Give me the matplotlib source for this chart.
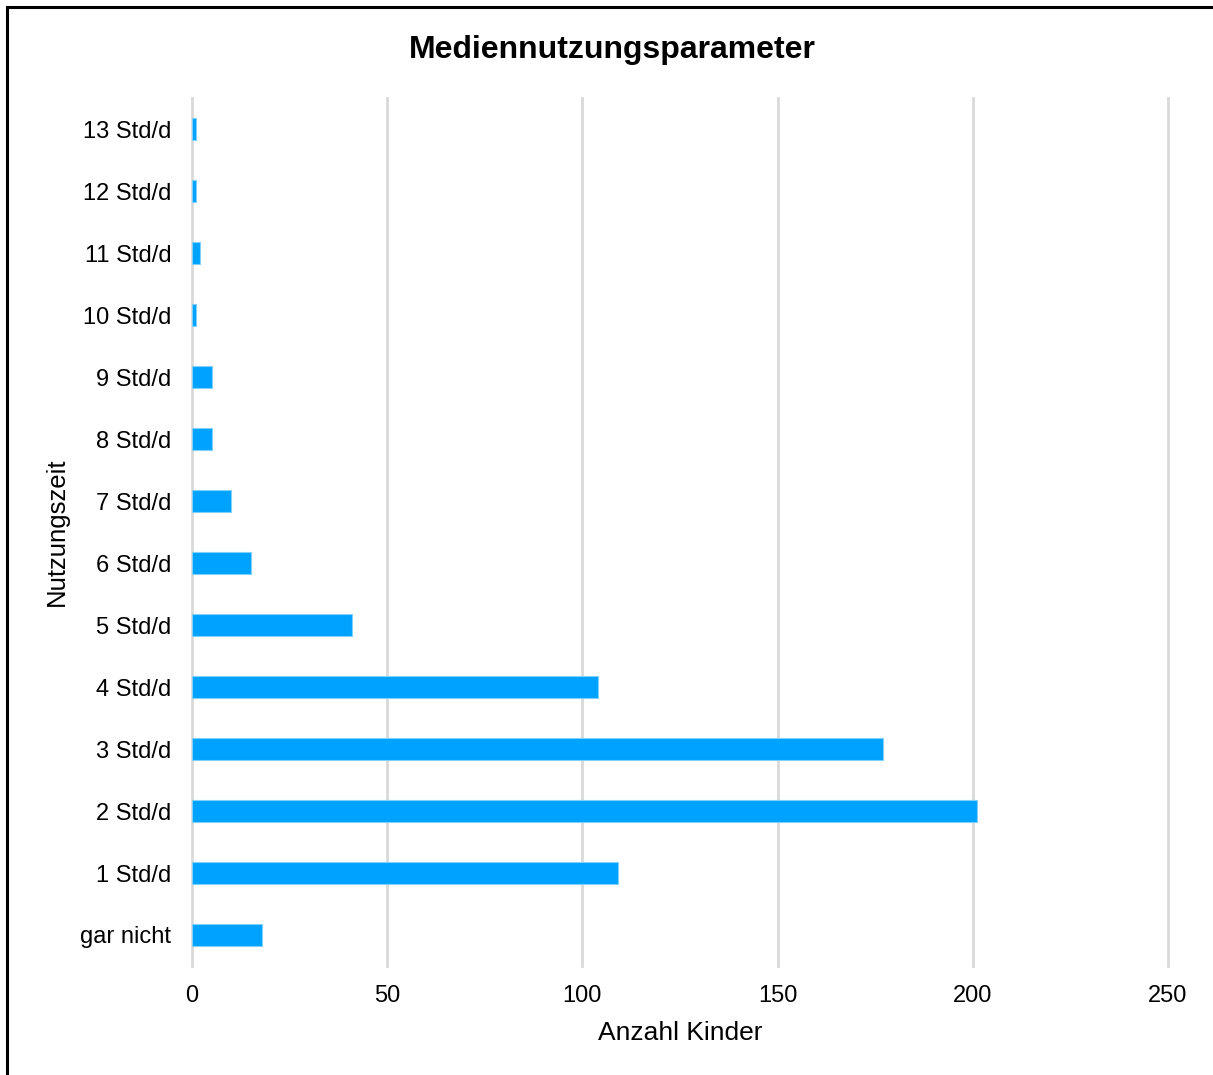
import matplotlib.pyplot as plt
from matplotlib.patches import Rectangle

plt.rcParams['font.family'] = ['Liberation Sans', 'DejaVu Sans']

# Nutzungszeit pro Tag und Anzahl der Kinder
kategorien = ['gar nicht', '1 Std/d', '2 Std/d', '3 Std/d', '4 Std/d', '5 Std/d',
              '6 Std/d', '7 Std/d', '8 Std/d', '9 Std/d', '10 Std/d', '11 Std/d',
              '12 Std/d', '13 Std/d']
anzahl = [18, 109, 201, 177, 104, 41, 15, 10, 5, 5, 1, 2, 1, 1]
x_ticks = [0, 50, 100, 150, 200, 250]

fig = plt.figure(figsize=(12.13, 10.75), dpi=100)
ax = fig.add_axes([192/1213, 1 - 966/1075, (1168-192)/1213, (966-98)/1075])

pos = range(len(kategorien))
ax.barh(pos, anzahl, height=0.36, color='#00A2FF', edgecolor='#7FD0FF',
        linewidth=0.8, zorder=3)

ax.set_xlim(0, 250)
ax.set_ylim(-0.5, len(kategorien) - 0.5)
ax.set_xticks(x_ticks)
ax.set_yticks(list(pos))
ax.set_yticklabels(kategorien)
ax.tick_params(axis='both', length=0, labelsize=17, colors='black')
ax.tick_params(axis='x', pad=14)
ax.tick_params(axis='y', pad=15)
ax.grid(axis='x', color='#D9D9D9', linewidth=2, zorder=0)
for gl in ax.get_xgridlines():
    gl.set_clip_on(False)
for s in ax.spines.values():
    s.set_visible(False)

ax.set_xlabel('Anzahl Kinder', fontsize=19, labelpad=10)
ax.set_ylabel('Nutzungszeit', fontsize=18.5, labelpad=8)
fig.text(612/1213, 1 - 50/1075, 'Mediennutzungsparameter', fontsize=23,
         fontweight='bold', ha='center', va='center')

# Rahmen um das Diagramm
fig.patches.append(Rectangle((7/1213, -0.1), 1.2, 1 - 7/1075 + 0.1,
                             transform=fig.transFigure, fill=False,
                             edgecolor='black', linewidth=2.2))

fig.savefig('out.png', dpi=100, facecolor='white')
